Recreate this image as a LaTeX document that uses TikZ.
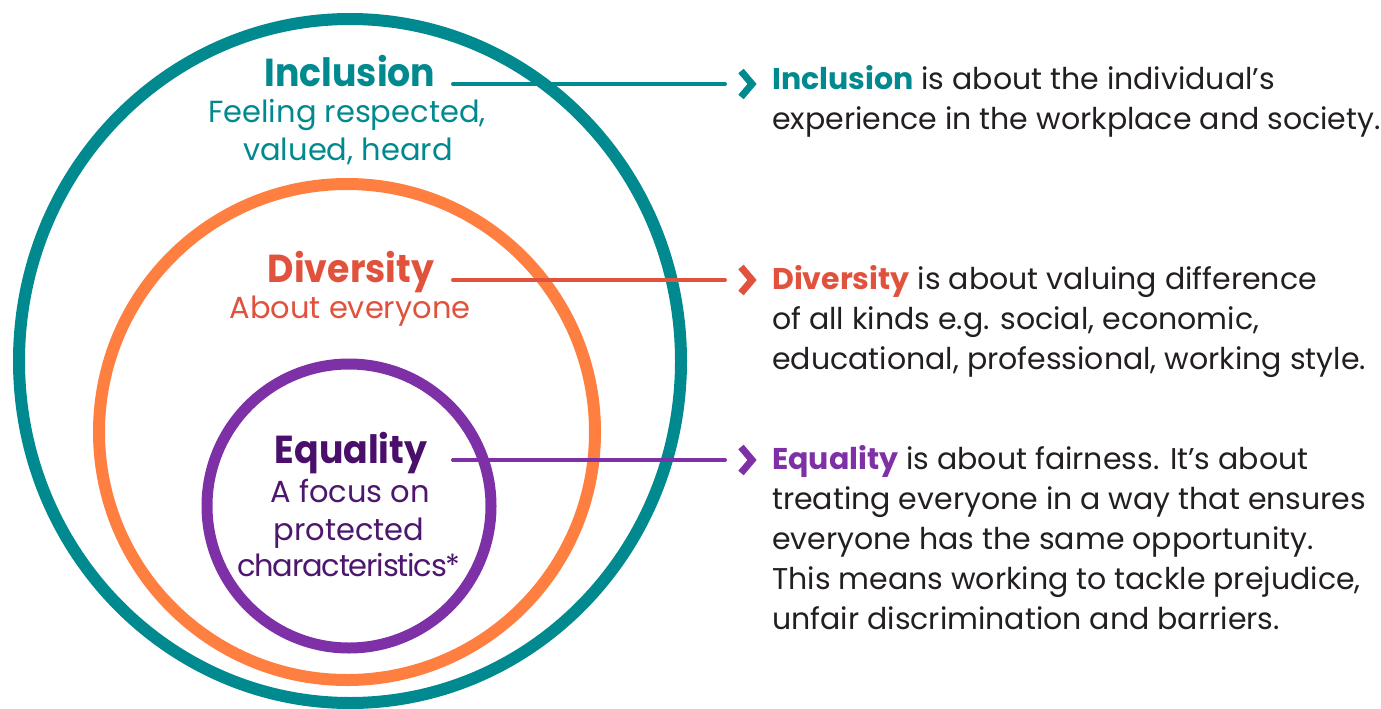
\documentclass[tikz,border=0pt]{standalone}
\usepackage{fontspec}
\setmainfont{Poppins}
\newfontfamily\ttlfont[FakeStretch=0.93]{Poppins}
\definecolor{incteal}{HTML}{008A8F}
\definecolor{divorange}{HTML}{FF7F41}
\definecolor{divred}{HTML}{E1523D}
\definecolor{eqpurple}{HTML}{7E30A6}
\definecolor{eqdark}{HTML}{4A0F6B}
\definecolor{eqsub}{HTML}{4D176E}
\definecolor{bodygray}{HTML}{231F20}
\begin{document}
\begin{tikzpicture}[x=1pt,y=-1pt,
  ring/.style={line width=12pt},
  conn/.style={line width=4pt, line cap=round},
  chev/.style={line width=7pt, line join=miter},
  ttl/.style={inner sep=0pt, anchor=base, font=\fontsize{39}{39}\ttlfont\bfseries},
  sub/.style={inner sep=0pt, anchor=base, font=\fontsize{30.5}{30.5}\selectfont},
  body/.style={inner sep=0pt, anchor=base west, text=bodygray, font=\fontsize{30}{30}\selectfont}]
\useasboundingbox[fill=white] (0,0) rectangle (1381,709);
% rings
\draw[ring, incteal] (350,361) ellipse [x radius=331, y radius=342];
\draw[ring, divorange] (347,432) circle [radius=248];
\draw[ring, eqpurple, line width=11pt] (349,506) circle [radius=142];
% left labels
\node[ttl, text=incteal] (inclT) at (350,86) {Inclusion};
\node[sub, text=incteal] (inclS1) at (347,122) {Feeling respected,};
\node[sub, text=incteal] (inclS2) at (348,160.5) {valued, heard};
\node[ttl, text=divred] (divT) at (351,282.6) {Diversity};
\node[sub, text=divred] (divS) at (350,318.8) {About everyone};
\node[ttl, text=eqdark] (eqT) at (351,463.5) {Equality};
\node[sub, text=eqsub] (eqS1) at (350,502.8) {A focus on};
\node[sub, text=eqsub] (eqS2) at (349,540.3) {protected};
\node[sub, text=eqsub] (eqS3) at (349,576.5) {\addfontfeature{LetterSpace=-4}characteristics*};
% right texts
\node[body] (ri1) at (772,89) {\textbf{\color{incteal}Inclusion} is about the individual’s};
\node[body] (ri2) at (772,129) {experience in the workplace and society.};
\node[body] (rd1) at (772,289) {\textbf{\color{divred}Diversity} is about valuing difference};
\node[body] (rd2) at (772,329) {of all kinds e.g. social, economic,};
\node[body] (rd3) at (772,369) {educational, professional, working style.};
\node[body] (re1) at (772,469) {\textbf{\color{eqpurple}Equality} is about fairness. It’s about};
\node[body] (re2) at (772,509) {treating everyone in a way that ensures};
\node[body] (re3) at (772,549) {everyone has the same opportunity.};
\node[body] (re4) at (772,589) {This means working to tackle prejudice,};
\node[body] (re5) at (772,629) {unfair discrimination and barriers.};
% connector ends
\coordinate (iA) at (453,84);  \coordinate (iB) at (725,84);
\coordinate (dA) at (453,280); \coordinate (dB) at (725,280);
\coordinate (eA) at (453,460); \coordinate (eB) at (725,460);
\draw[conn, incteal] (iA) -- (iB);
\draw[conn, divred] (dA) -- (dB);
\draw[conn, eqpurple] (eA) -- (eB);
% chevrons
\draw[chev, incteal] ([xshift=16pt,yshift=-13pt]iB) -- ([xshift=27pt]iB) -- ([xshift=16pt,yshift=13pt]iB);
\draw[chev, divred] ([xshift=16pt,yshift=-13pt]dB) -- ([xshift=27pt]dB) -- ([xshift=16pt,yshift=13pt]dB);
\draw[chev, eqpurple] ([xshift=16pt,yshift=-13pt]eB) -- ([xshift=27pt]eB) -- ([xshift=16pt,yshift=13pt]eB);
\end{tikzpicture}
\end{document}
